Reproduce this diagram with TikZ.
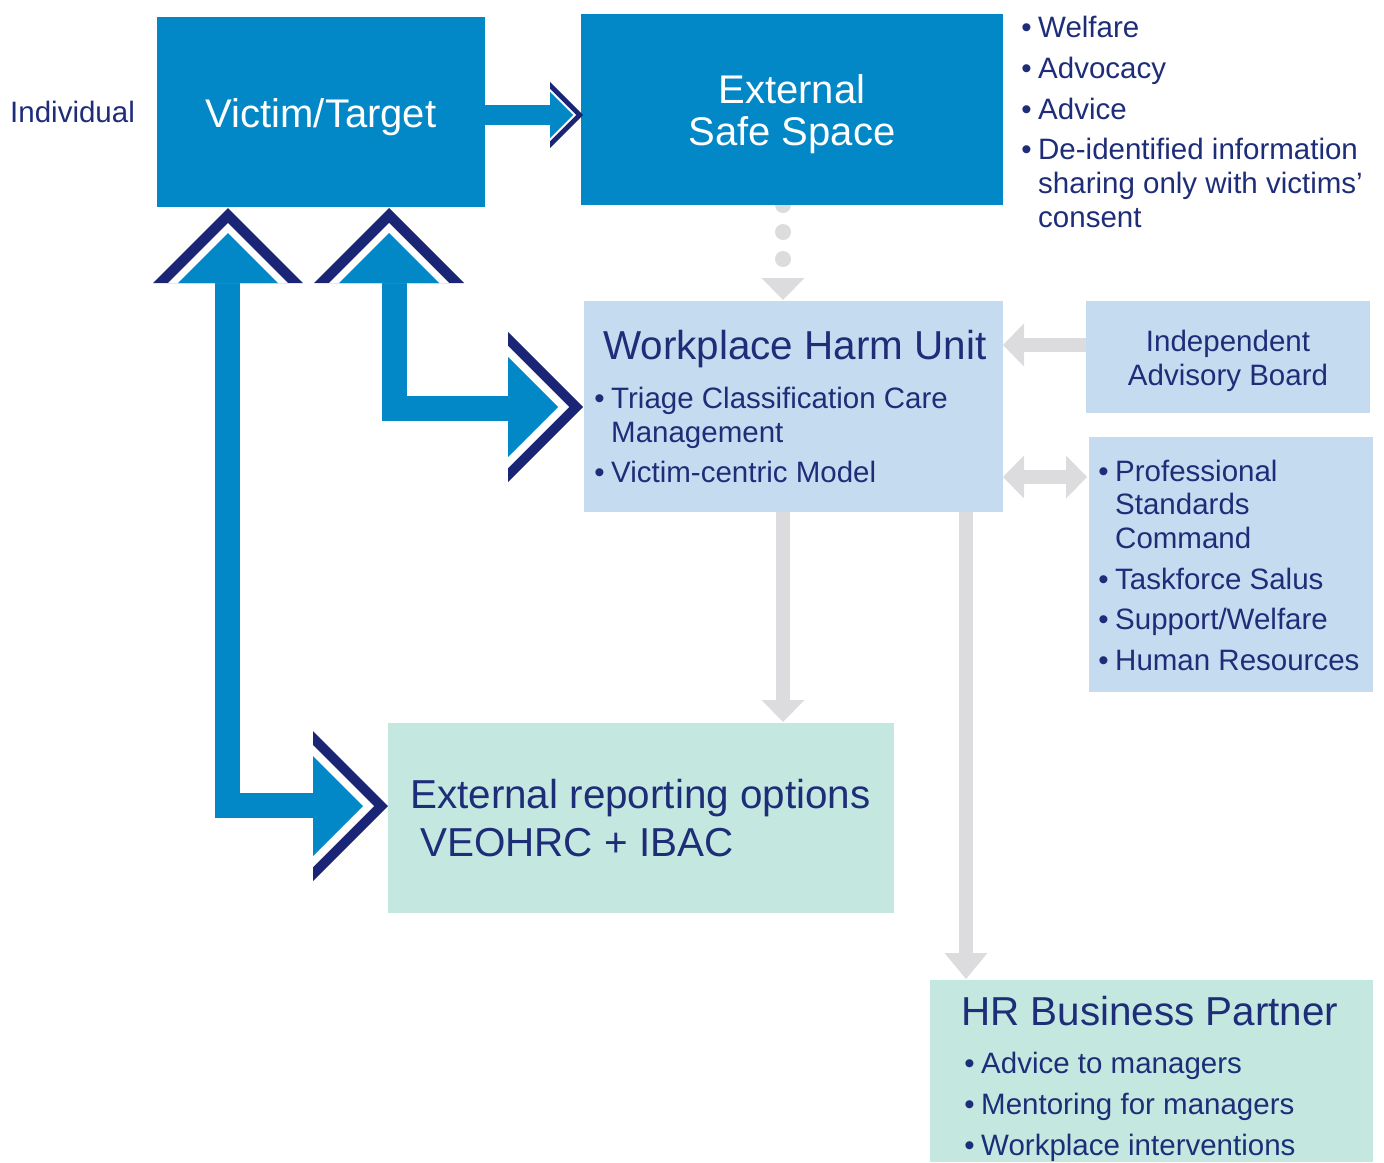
\documentclass[tikz,border=0pt]{standalone}
\usepackage{fontspec}
\setmainfont{Liberation Sans}
\usetikzlibrary{calc,arrows.meta}
\definecolor{cblue}{HTML}{0288C7}
\definecolor{cnavy}{HTML}{1B2575}
\definecolor{ctext}{HTML}{1E2D78}
\definecolor{clight}{HTML}{C5DBF0}
\definecolor{cmint}{HTML}{C4E7DF}
\definecolor{cgrey}{HTML}{DCDCDE}
\newcommand\bitem[1]{\llap{\textbullet\hspace{6.5pt}}#1}
\newcommand\chevR[5]{%
  \fill[cnavy] (#1-#3,#2-#3) -- (#1,#2) -- (#1-#3,#2+#3) -- cycle;
  \fill[white] (#1-#3,#2-#3+#4) -- (#1-#4,#2) -- (#1-#3,#2+#3-#4) -- cycle;
  \fill[cblue] (#1-#3,#2-#3+#5) -- (#1-#5,#2) -- (#1-#3,#2+#3-#5) -- cycle;}
\newcommand\chevU[5]{%
  \fill[cnavy] (#1-#3,#2+#3) -- (#1,#2) -- (#1+#3,#2+#3) -- cycle;
  \fill[white] (#1-#3+#4,#2+#3) -- (#1,#2+#4) -- (#1+#3-#4,#2+#3) -- cycle;
  \fill[cblue] (#1-#3+#5,#2+#3) -- (#1,#2+#5) -- (#1+#3-#5,#2+#3) -- cycle;}
\begin{document}
\begin{tikzpicture}[x=1pt,y=-1pt,
  box/.style={anchor=north west, inner sep=0pt, outer sep=0pt, draw=none},
  txt/.style={anchor=base west, inner sep=0pt, text=ctext, font=\fontsize{29.5}{34}\selectfont},
  ctxt/.style={anchor=base, inner sep=0pt, text=ctext, font=\fontsize{29.5}{34}\selectfont},
  ttl/.style={anchor=base west, inner sep=0pt, text=ctext, font=\fontsize{40.4}{44}\selectfont},
  wttl/.style={anchor=base, inner sep=0pt, text=white, font=\fontsize{40}{44}\selectfont},
  bbar/.style={draw=cblue, line width=25pt, line join=miter, line cap=butt},
  gline/.style={draw=cgrey, line width=14pt, line cap=butt}
]
\useasboundingbox (0,0) rectangle (1384,1162);

% ---- boxes
\node[box, fill=cblue, minimum width=328pt, minimum height=190pt] (victim) at (157,17) {};
\node[box, fill=cblue, minimum width=422pt, minimum height=191pt] (ess) at (581,14) {};
\node[box, fill=clight, minimum width=419pt, minimum height=211pt] (whu) at (584,301) {};
\node[box, fill=clight, minimum width=284pt, minimum height=112pt] (iab) at (1086,301) {};
\node[box, fill=clight, minimum width=284pt, minimum height=255pt] (psc) at (1089,437) {};
\node[box, fill=cmint, minimum width=506pt, minimum height=190pt] (ero) at (388,723) {};
\node[box, fill=cmint, minimum width=443pt, minimum height=182pt] (hrbp) at (930,980) {};

% ---- helper coordinates
\coordinate (xa) at (783,0);
\coordinate (xb) at (966,0);
\coordinate (ya) at (0,345);
\coordinate (yb) at (0,477);

% ---- grey connectors
\foreach \yy in {232,259} \fill[cgrey] (783,\yy) circle (8);
\begin{scope}
  \clip (0,205) rectangle (1384,230);
  \fill[cgrey] (783,205) circle (8);
\end{scope}
\coordinate (dotend) at ($(whu.north -| xa)+(0,-1)$);
\fill[cgrey] ($(dotend)+(-21.5,-22)$) -- (dotend) -- ($(dotend)+(21.5,-22)$) -- cycle;

\draw[gline, -{Triangle[width=43pt,length=22pt,line width=0pt]}] (whu.south -| xa) -- ($(ero.north -| xa)+(0,-1)$);
\draw[gline, -{Triangle[width=43pt,length=26pt,line width=0pt]}] (whu.south -| xb) -- ($(hrbp.north -| xb)+(0,-1)$);
\draw[gline, -{Triangle[width=43pt,length=21pt,line width=0pt]}] (iab.west |- ya) -- (whu.east |- ya);
\draw[gline, {Triangle[width=43pt,length=21pt,line width=0pt]}-{Triangle[width=43pt,length=21pt,line width=0pt]}] (whu.east |- yb) -- ($(psc.west |- yb)+(-2,0)$);

% ---- blue connectors
\coordinate (c1) at (550,115);
\draw[bbar, line width=20pt] (victim.east |- c1) -- (c1);
\chevR{583}{115}{33}{7}{10}

\coordinate (c2) at (394.5,283);
\coordinate (c2b) at (508,408);
\draw[bbar] (c2) -- (c2 |- c2b) -- (c2b);
\chevU{389}{208}{75}{15}{25}
\chevR{583}{407}{75}{14}{25}

\coordinate (c3) at (227.5,283);
\coordinate (c3b) at (314,805);
\draw[bbar] (c3) -- (c3 |- c3b) -- (c3b);
\chevU{228}{208}{75}{15}{25}
\chevR{388}{806}{75}{14}{25}

% ---- texts
\node[txt] (lind) at (10,122) {Individual};
\node[wttl] (lvic) at (321,127) {Victim/Target};
\node[wttl] (less1) at (792,103) {External};
\node[wttl] (less2) at (792,145) {Safe Space};

\node[txt] (b1) at (1038,37) {\bitem{Welfare}};
\node[txt] (b2) at (1038,78) {\bitem{Advocacy}};
\node[txt] (b3) at (1038,119) {\bitem{Advice}};
\node[txt] (b4) at (1038,159) {\bitem{De-identified information}};
\node[txt] (b4b) at (1038,193) {sharing only with victims’};
\node[txt] (b4c) at (1038,227) {consent};

\node[ttl] (lwhu) at (603,359) {Workplace Harm Unit};
\node[txt] (w1) at (611,408) {\bitem{Triage Classification Care}};
\node[txt] (w1b) at (611,442) {Management};
\node[txt] (w2) at (611,482) {\bitem{Victim-centric Model}};

\node[ctxt] (liab1) at (1228,351) {Independent};
\node[ctxt] (liab2) at (1228,385) {Advisory Board};

\node[txt] (p1) at (1115,481) {\bitem{Professional}};
\node[txt] (p1b) at (1115,514) {Standards};
\node[txt] (p1c) at (1115,548) {Command};
\node[txt] (p2) at (1115,589) {\bitem{Taskforce Salus}};
\node[txt] (p3) at (1115,629) {\bitem{Support/Welfare}};
\node[txt] (p4) at (1115,670) {\bitem{Human Resources}};

\node[ttl] (lero1) at (410,808) {External reporting options};
\node[ttl] (lero2) at (420,856) {VEOHRC + IBAC};

\node[ttl] (lhr) at (961,1025) {HR Business Partner};
\node[txt] (h1) at (981,1073) {\bitem{Advice to managers}};
\node[txt] (h2) at (981,1114) {\bitem{Mentoring for managers}};
\node[txt] (h3) at (981,1155) {\bitem{Workplace interventions}};
\end{tikzpicture}
\end{document}
